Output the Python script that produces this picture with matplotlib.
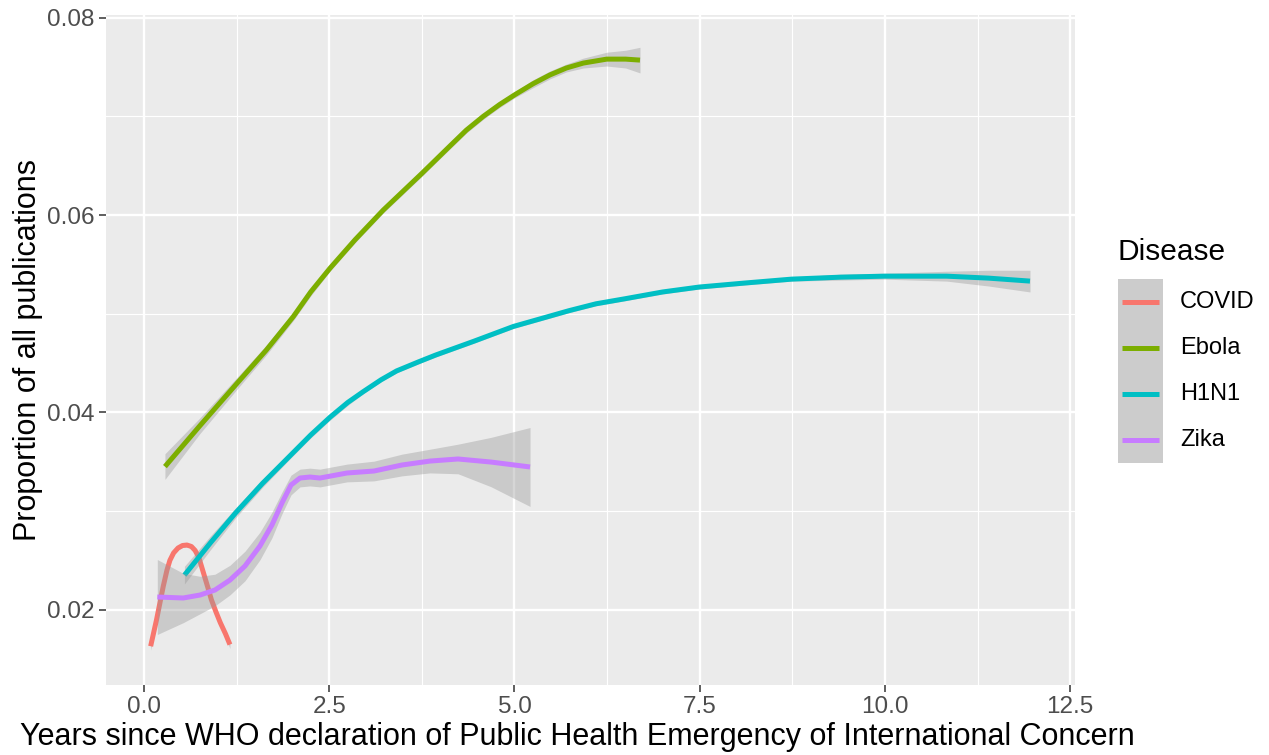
import matplotlib
matplotlib.use("Agg")
import matplotlib.pyplot as plt
from matplotlib.patches import Rectangle
from matplotlib.lines import Line2D
import numpy as np

plt.rcParams["font.family"] = ["Liberation Sans", "DejaVu Sans"]

# === data (smoothed curves + standard error band) ===
diseases = ["COVID", "Ebola", "H1N1", "Zika"]
colors = ["#F8766D", "#7CAE00", "#00BFC4", "#C77CFF"]

covid_x = [0.09, 0.17, 0.26, 0.31, 0.35, 0.40, 0.46, 0.52, 0.58, 0.64, 0.69, 0.74,
           0.80, 0.86, 0.91, 0.97, 1.03, 1.10, 1.16]
covid_y = [0.01629, 0.01899, 0.02236, 0.02400, 0.02500, 0.02575, 0.02625, 0.02650,
           0.02655, 0.02640, 0.02600, 0.02530, 0.02380, 0.02230, 0.02100, 0.01980,
           0.01868, 0.01755, 0.01646]
covid_se = [0.0004, 0.0003, 0.0002, 0.0002, 0.0002, 0.0002, 0.0002, 0.0002, 0.0002,
            0.0002, 0.0002, 0.0002, 0.0002, 0.0002, 0.0002, 0.0002, 0.0003, 0.0003,
            0.0004]

ebola_x = [0.283, 0.75, 1.251, 1.65, 2.015, 2.25, 2.51, 2.85, 3.229, 3.748, 4.13,
           4.35, 4.579, 4.8, 5.007, 5.25, 5.479, 5.7, 5.929, 6.245, 6.5, 6.694]
ebola_y = [0.0345, 0.0386, 0.0429, 0.0463, 0.0497, 0.0522, 0.0546, 0.0575, 0.0605,
           0.0642, 0.0670, 0.0686, 0.0700, 0.0712, 0.0722, 0.0733, 0.0742, 0.0749,
           0.0754, 0.0758, 0.0758, 0.0757]
ebola_se = [0.0013, 0.0008, 0.0006, 0.0005, 0.0004, 0.0004, 0.0003, 0.0003, 0.0003,
            0.0003, 0.0003, 0.0003, 0.0003, 0.0003, 0.0003, 0.0004, 0.0004, 0.0004,
            0.0005, 0.0007, 0.0009, 0.0013]

h1n1_x = [0.546, 0.9, 1.236, 1.6, 1.985, 2.25, 2.51, 2.75, 2.96, 3.2, 3.41, 3.7,
          3.934, 4.45, 4.984, 5.734, 6.1, 6.483, 7.0, 7.495, 8.1, 8.74, 9.4, 9.992,
          10.4, 10.832, 11.4, 11.957]
h1n1_y = [0.0235, 0.0268, 0.0298, 0.0328, 0.0357, 0.0377, 0.0395, 0.0410, 0.0421,
          0.0433, 0.0442, 0.0451, 0.0458, 0.0472, 0.0487, 0.0503, 0.0510, 0.0515,
          0.0522, 0.0527, 0.0531, 0.0535, 0.0537, 0.0538, 0.0538, 0.0538, 0.0536,
          0.0533]
h1n1_se = [0.0009, 0.0007, 0.0005, 0.0004, 0.0003, 0.0003, 0.0003, 0.0003, 0.0002,
           0.0002, 0.0002, 0.0002, 0.0002, 0.0002, 0.0002, 0.0002, 0.0002, 0.0002,
           0.0002, 0.0002, 0.0002, 0.0002, 0.0003, 0.0003, 0.0004, 0.0005, 0.0008,
           0.0011]

zika_x = [0.18, 0.53, 0.756, 0.958, 1.161, 1.363, 1.565, 1.727, 1.862, 1.984, 2.105,
          2.24, 2.375, 2.74, 3.104, 3.482, 3.86, 4.238, 4.683, 5.21]
zika_y = [0.02128, 0.02118, 0.02148, 0.02199, 0.02300, 0.02442, 0.02645, 0.02858,
          0.03081, 0.03263, 0.03334, 0.03344, 0.03334, 0.03385, 0.03405, 0.03466,
          0.03506, 0.03527, 0.03496, 0.03446]
zika_se = [0.0038, 0.0025, 0.0019, 0.0016, 0.0015, 0.0015, 0.0014, 0.0013, 0.0011,
           0.0010, 0.0009, 0.0009, 0.0009, 0.0009, 0.0010, 0.0011, 0.0012, 0.0015,
           0.0025, 0.0040]

series = [(covid_x, covid_y, covid_se), (ebola_x, ebola_y, ebola_se),
          (h1n1_x, h1n1_y, h1n1_se), (zika_x, zika_y, zika_se)]

x_ticks = [0.0, 2.5, 5.0, 7.5, 10.0, 12.5]
y_ticks = [0.02, 0.04, 0.06, 0.08]

# === figure ===
fig = plt.figure(figsize=(12.69, 7.55), dpi=100)
ax = fig.add_axes([0.0835, 0.0927, 0.7636, 0.8874])
ax.set_facecolor("#EBEBEB")

for i, (xs, ys, se) in enumerate(series):
    xs, ys, se = np.array(xs), np.array(ys), np.array(se)
    ax.fill_between(xs, ys - se, ys + se, color="#999999", alpha=0.4,
                    linewidth=0, zorder=3 + 2 * i)
    ax.plot(xs, ys, color=colors[i], lw=3.6, solid_capstyle="butt",
            solid_joinstyle="round", zorder=4 + 2 * i)

ax.set_xlim(-0.513, 12.564)
ax.set_ylim(0.01236, 0.08027)
ax.set_xticks(x_ticks)
ax.set_xticklabels([f"{v:.1f}" for v in x_ticks])
ax.set_yticks(y_ticks)
ax.set_yticklabels([f"{v:.2f}" for v in y_ticks])
ax.set_xticks([1.25, 3.75, 6.25, 8.75, 11.25], minor=True)
ax.set_yticks([0.03, 0.05, 0.07], minor=True)

ax.grid(which="major", color="white", lw=1.7)
ax.grid(which="minor", color="white", lw=0.85)
ax.set_axisbelow(True)
for s in ax.spines.values():
    s.set_visible(False)
ax.tick_params(which="major", length=5, width=1.1, color="#333333",
               labelsize=17.5, labelcolor="#4D4D4D", pad=3)
ax.tick_params(which="minor", length=0)

ax.set_xlabel("Years since WHO declaration of Public Health Emergency of International Concern",
              fontsize=22, labelpad=5)
ax.xaxis.set_label_coords((577 - 106) / 969, -0.055)
ax.xaxis.label.set_va("top")
ax.set_ylabel("Proportion of all publications", fontsize=22, labelpad=3)

# === legend (ggplot style) ===
W, H = 1269.0, 755.0
fig.text(1118 / W, 1 - 252 / H, "Disease", fontsize=21.5, ha="left", va="center")
fig.patches.append(Rectangle((1118 / W, 1 - 463 / H), 45 / W, 184 / H,
                             transform=fig.transFigure, facecolor="#CCCCCC",
                             edgecolor="none"))
key_y = [302, 348, 394, 440]
for name, c, ky in zip(diseases, colors, key_y):
    fig.lines.append(Line2D([1122 / W, 1159 / W], [1 - ky / H, 1 - ky / H],
                            transform=fig.transFigure, color=c, lw=3.6,
                            solid_capstyle="butt"))
    fig.text(1180 / W, 1 - ky / H, name, fontsize=17, ha="left", va="center")

fig.savefig("out.png", dpi=100)
